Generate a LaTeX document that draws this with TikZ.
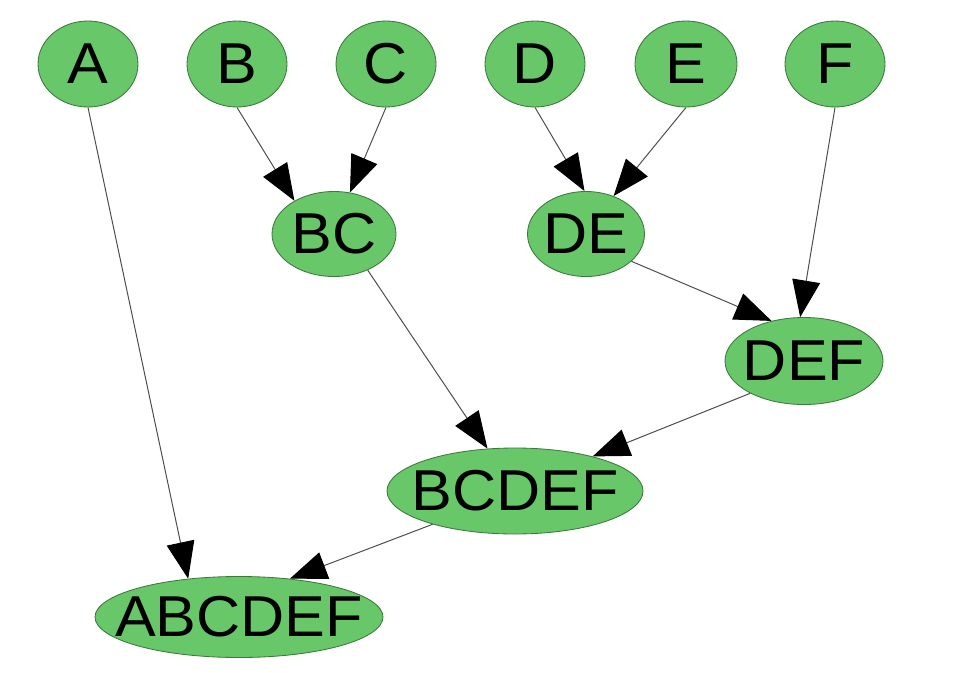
\documentclass[tikz,border=0pt]{standalone}
\usepackage{fontspec}
\setmainfont{Liberation Sans}
\usetikzlibrary{shapes.geometric,arrows.meta}
\definecolor{nodegreen}{RGB}{104,199,104}
\definecolor{nodeedge}{RGB}{60,120,60}
\begin{document}
\begin{tikzpicture}
[nodedecorate/.style={shape=ellipse,inner sep=0pt,draw=nodeedge,line width=0.6pt,fill=nodegreen},%
  labeldecorate/.style={inner sep=0pt,font=\fontsize{41}{41}\selectfont,xscale=1.06},%
  linedecorate/.style={-{Triangle[length=0.92cm,width=0.7cm,color=black]},line width=0.7pt,draw=black!70},%
  x=0.025cm,y=-0.025cm]
\useasboundingbox (0,0) rectangle (960,672);
%% nodes or vertices
\foreach \nodename/\x/\y/\w/\h in {
  A/88/64/100/86, B/237/64/100/86, C/386/64/100/86,
  D/535/64/100/86, E/686/64/102/86, F/835/64/100/86,
  BC/334/234/124/85, DE/586/234/117/85, DEF/804/361/158/87,
  BCDEF/515/491/256/86, ABCDEF/239/617/288/81}
{
  \node (\nodename) at (\x,\y) [nodedecorate,minimum width=\w*0.025cm,minimum height=\h*0.025cm,
    label={[labeldecorate]center:\nodename}] {};
}
%% edges
\foreach \from/\to in {
  A.south/ABCDEF.143, B.south/BC.140, C.south/BC.69,
  D.south/DE.92, E.south/DE.54, F.south/DEF.95,
  DE.-31/DEF.129, BC.-47/BCDEF.123, DEF.211/BCDEF.24,
  BCDEF.202/ABCDEF.37}
{
  \draw [linedecorate] (\from) -- (\to);
}
\end{tikzpicture}
\end{document}
